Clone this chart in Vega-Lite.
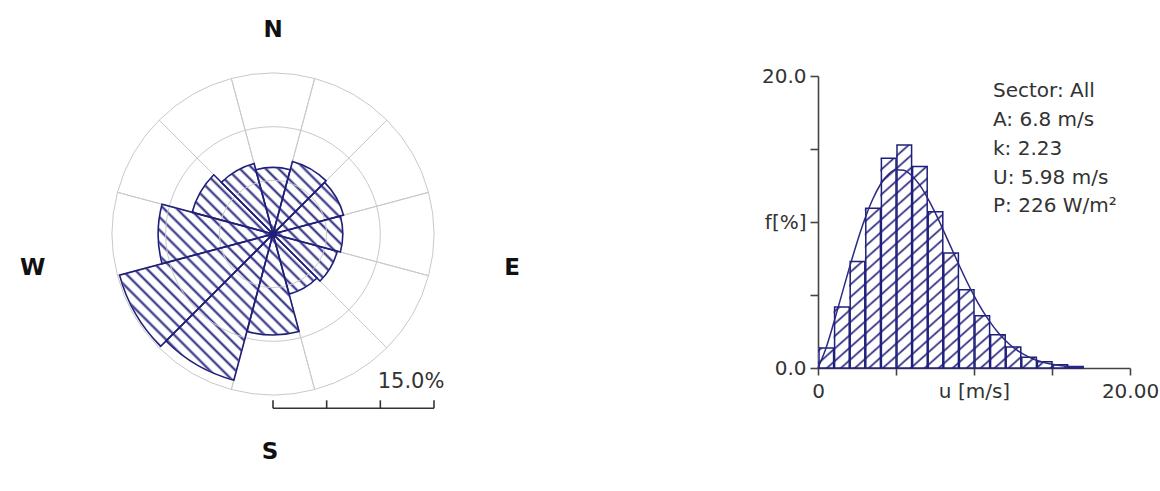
{
  "$schema": "https://vega.github.io/schema/vega-lite/v6.json",
  "padding": 0,
  "background": "white",
  "spacing": 272,
  "bounds": "flush",
  "config": {"view": {"stroke": null}, "font": "DejaVu Sans"},
  "datasets": {
    "rose": [
      {"dir": 0, "from": -15, "to": 15, "freq": 6.2}, {"dir": 30, "from": 15, "to": 45, "freq": 7.0},
      {"dir": 60, "from": 45, "to": 75, "freq": 6.8}, {"dir": 90, "from": 75, "to": 105, "freq": 6.5},
      {"dir": 120, "from": 105, "to": 135, "freq": 6.2}, {"dir": 150, "from": 135, "to": 165, "freq": 5.8},
      {"dir": 180, "from": 165, "to": 195, "freq": 9.4}, {"dir": 210, "from": 195, "to": 225, "freq": 14.1},
      {"dir": 240, "from": 225, "to": 255, "freq": 14.8}, {"dir": 270, "from": 255, "to": 285, "freq": 10.7},
      {"dir": 300, "from": 285, "to": 315, "freq": 7.8}, {"dir": 330, "from": 315, "to": 345, "freq": 6.8}
    ],
    "rings": [{"pct": 5}, {"pct": 10}],
    "barTicks": [{"pct": 0}, {"pct": 5}, {"pct": 10}, {"pct": 15}],
    "hist": [
      {"lo": 0, "hi": 1, "f": 1.37}, {"lo": 1, "hi": 2, "f": 4.17}, {"lo": 2, "hi": 3, "f": 7.3},
      {"lo": 3, "hi": 4, "f": 10.95}, {"lo": 4, "hi": 5, "f": 14.37}, {"lo": 5, "hi": 6, "f": 15.28},
      {"lo": 6, "hi": 7, "f": 13.8}, {"lo": 7, "hi": 8, "f": 10.7}, {"lo": 8, "hi": 9, "f": 7.87},
      {"lo": 9, "hi": 10, "f": 5.36}, {"lo": 10, "hi": 11, "f": 3.58}, {"lo": 11, "hi": 12, "f": 2.28},
      {"lo": 12, "hi": 13, "f": 1.44}, {"lo": 13, "hi": 14, "f": 0.73}, {"lo": 14, "hi": 15, "f": 0.42},
      {"lo": 15, "hi": 16, "f": 0.23}, {"lo": 16, "hi": 17, "f": 0.11}
    ],
    "weibull": [
      {"u": 0, "f": 0}, {"u": 0.5, "f": 1.32}, {"u": 1, "f": 3.06}, {"u": 1.5, "f": 4.94},
      {"u": 2, "f": 6.82}, {"u": 2.5, "f": 8.6}, {"u": 3, "f": 10.2}, {"u": 3.5, "f": 11.54},
      {"u": 4, "f": 12.57}, {"u": 4.5, "f": 13.25}, {"u": 5, "f": 13.58}, {"u": 5.5, "f": 13.55},
      {"u": 6, "f": 13.19}, {"u": 6.5, "f": 12.56}, {"u": 7, "f": 11.69}, {"u": 7.5, "f": 10.66},
      {"u": 8, "f": 9.52}, {"u": 8.5, "f": 8.33}, {"u": 9, "f": 7.15}, {"u": 9.5, "f": 6.01},
      {"u": 10, "f": 4.96}, {"u": 10.5, "f": 4.01}, {"u": 11, "f": 3.19}, {"u": 11.5, "f": 2.48},
      {"u": 12, "f": 1.9}, {"u": 12.5, "f": 1.42}, {"u": 13, "f": 1.05}, {"u": 13.5, "f": 0.76},
      {"u": 14, "f": 0.53}, {"u": 14.5, "f": 0.37}, {"u": 15, "f": 0.25}, {"u": 15.5, "f": 0.17},
      {"u": 16, "f": 0.11}, {"u": 17, "f": 0.05}
    ]
  },
  "hconcat": [
    {
      "width": 546,
      "height": 468,
      "layer": [
        {
          "data": {"values": [{}]},
          "mark": {
            "type": "point", "shape": "circle", "filled": true, "opacity": 1, "stroke": null,
            "fill": {
              "gradient": "linear", "x1": 0, "y1": 1, "x2": 1, "y2": 0,
              "stops": [
                {"offset": 0.0055, "color": "white"}, {"offset": 0.01, "color": "#26267f"}, {"offset": 0.0145, "color": "white"},
                {"offset": 0.0255, "color": "white"}, {"offset": 0.03, "color": "#26267f"}, {"offset": 0.0345, "color": "white"},
                {"offset": 0.0455, "color": "white"}, {"offset": 0.05, "color": "#26267f"}, {"offset": 0.0545, "color": "white"},
                {"offset": 0.0655, "color": "white"}, {"offset": 0.07, "color": "#26267f"}, {"offset": 0.0745, "color": "white"},
                {"offset": 0.0855, "color": "white"}, {"offset": 0.09, "color": "#26267f"}, {"offset": 0.0945, "color": "white"},
                {"offset": 0.1055, "color": "white"}, {"offset": 0.11, "color": "#26267f"}, {"offset": 0.1145, "color": "white"},
                {"offset": 0.1255, "color": "white"}, {"offset": 0.13, "color": "#26267f"}, {"offset": 0.1345, "color": "white"},
                {"offset": 0.1455, "color": "white"}, {"offset": 0.15, "color": "#26267f"}, {"offset": 0.1545, "color": "white"},
                {"offset": 0.1655, "color": "white"}, {"offset": 0.17, "color": "#26267f"}, {"offset": 0.1745, "color": "white"},
                {"offset": 0.1855, "color": "white"}, {"offset": 0.19, "color": "#26267f"}, {"offset": 0.1945, "color": "white"},
                {"offset": 0.2055, "color": "white"}, {"offset": 0.21, "color": "#26267f"}, {"offset": 0.2145, "color": "white"},
                {"offset": 0.2255, "color": "white"}, {"offset": 0.23, "color": "#26267f"}, {"offset": 0.2345, "color": "white"},
                {"offset": 0.2455, "color": "white"}, {"offset": 0.25, "color": "#26267f"}, {"offset": 0.2545, "color": "white"},
                {"offset": 0.2655, "color": "white"}, {"offset": 0.27, "color": "#26267f"}, {"offset": 0.2745, "color": "white"},
                {"offset": 0.2855, "color": "white"}, {"offset": 0.29, "color": "#26267f"}, {"offset": 0.2945, "color": "white"},
                {"offset": 0.3055, "color": "white"}, {"offset": 0.31, "color": "#26267f"}, {"offset": 0.3145, "color": "white"},
                {"offset": 0.3255, "color": "white"}, {"offset": 0.33, "color": "#26267f"}, {"offset": 0.3345, "color": "white"},
                {"offset": 0.3455, "color": "white"}, {"offset": 0.35, "color": "#26267f"}, {"offset": 0.3545, "color": "white"},
                {"offset": 0.3655, "color": "white"}, {"offset": 0.37, "color": "#26267f"}, {"offset": 0.3745, "color": "white"},
                {"offset": 0.3855, "color": "white"}, {"offset": 0.39, "color": "#26267f"}, {"offset": 0.3945, "color": "white"},
                {"offset": 0.4055, "color": "white"}, {"offset": 0.41, "color": "#26267f"}, {"offset": 0.4145, "color": "white"},
                {"offset": 0.4255, "color": "white"}, {"offset": 0.43, "color": "#26267f"}, {"offset": 0.4345, "color": "white"},
                {"offset": 0.4455, "color": "white"}, {"offset": 0.45, "color": "#26267f"}, {"offset": 0.4545, "color": "white"},
                {"offset": 0.4655, "color": "white"}, {"offset": 0.47, "color": "#26267f"}, {"offset": 0.4745, "color": "white"},
                {"offset": 0.4855, "color": "white"}, {"offset": 0.49, "color": "#26267f"}, {"offset": 0.4945, "color": "white"},
                {"offset": 0.5055, "color": "white"}, {"offset": 0.51, "color": "#26267f"}, {"offset": 0.5145, "color": "white"},
                {"offset": 0.5255, "color": "white"}, {"offset": 0.53, "color": "#26267f"}, {"offset": 0.5345, "color": "white"},
                {"offset": 0.5455, "color": "white"}, {"offset": 0.55, "color": "#26267f"}, {"offset": 0.5545, "color": "white"},
                {"offset": 0.5655, "color": "white"}, {"offset": 0.57, "color": "#26267f"}, {"offset": 0.5745, "color": "white"},
                {"offset": 0.5855, "color": "white"}, {"offset": 0.59, "color": "#26267f"}, {"offset": 0.5945, "color": "white"},
                {"offset": 0.6055, "color": "white"}, {"offset": 0.61, "color": "#26267f"}, {"offset": 0.6145, "color": "white"},
                {"offset": 0.6255, "color": "white"}, {"offset": 0.63, "color": "#26267f"}, {"offset": 0.6345, "color": "white"},
                {"offset": 0.6455, "color": "white"}, {"offset": 0.65, "color": "#26267f"}, {"offset": 0.6545, "color": "white"},
                {"offset": 0.6655, "color": "white"}, {"offset": 0.67, "color": "#26267f"}, {"offset": 0.6745, "color": "white"},
                {"offset": 0.6855, "color": "white"}, {"offset": 0.69, "color": "#26267f"}, {"offset": 0.6945, "color": "white"},
                {"offset": 0.7055, "color": "white"}, {"offset": 0.71, "color": "#26267f"}, {"offset": 0.7145, "color": "white"},
                {"offset": 0.7255, "color": "white"}, {"offset": 0.73, "color": "#26267f"}, {"offset": 0.7345, "color": "white"},
                {"offset": 0.7455, "color": "white"}, {"offset": 0.75, "color": "#26267f"}, {"offset": 0.7545, "color": "white"},
                {"offset": 0.7655, "color": "white"}, {"offset": 0.77, "color": "#26267f"}, {"offset": 0.7745, "color": "white"},
                {"offset": 0.7855, "color": "white"}, {"offset": 0.79, "color": "#26267f"}, {"offset": 0.7945, "color": "white"},
                {"offset": 0.8055, "color": "white"}, {"offset": 0.81, "color": "#26267f"}, {"offset": 0.8145, "color": "white"},
                {"offset": 0.8255, "color": "white"}, {"offset": 0.83, "color": "#26267f"}, {"offset": 0.8345, "color": "white"},
                {"offset": 0.8455, "color": "white"}, {"offset": 0.85, "color": "#26267f"}, {"offset": 0.8545, "color": "white"},
                {"offset": 0.8655, "color": "white"}, {"offset": 0.87, "color": "#26267f"}, {"offset": 0.8745, "color": "white"},
                {"offset": 0.8855, "color": "white"}, {"offset": 0.89, "color": "#26267f"}, {"offset": 0.8945, "color": "white"},
                {"offset": 0.9055, "color": "white"}, {"offset": 0.91, "color": "#26267f"}, {"offset": 0.9145, "color": "white"},
                {"offset": 0.9255, "color": "white"}, {"offset": 0.93, "color": "#26267f"}, {"offset": 0.9345, "color": "white"},
                {"offset": 0.9455, "color": "white"}, {"offset": 0.95, "color": "#26267f"}, {"offset": 0.9545, "color": "white"},
                {"offset": 0.9655, "color": "white"}, {"offset": 0.97, "color": "#26267f"}, {"offset": 0.9745, "color": "white"},
                {"offset": 0.9855, "color": "white"}, {"offset": 0.99, "color": "#26267f"}, {"offset": 0.9945, "color": "white"}
              ]
            }
          },
          "encoding": {
            "x": {"datum": 0, "type": "quantitative", "scale": {"domain": [-25.436, 25.436], "nice": false, "zero": false}, "axis": null},
            "y": {"datum": 0, "type": "quantitative", "scale": {"domain": [-21.802, 21.802], "nice": false, "zero": false}, "axis": null},
            "size": {"datum": 15, "type": "quantitative", "legend": null, "scale": {"type": "pow", "exponent": 2, "domain": [0, 15], "range": [0, 103684]}}
          }
        },
        {
          "data": {"name": "rose"},
          "mark": {"type": "arc", "fill": "white", "stroke": "white", "strokeWidth": 1},
          "encoding": {
            "theta": {"field": "from", "type": "quantitative", "stack": false, "scale": {"type": "linear", "domain": [0, 360], "range": [0, 6.2832], "zero": false, "nice": false}},
            "theta2": {"field": "to"},
            "radius": {"field": "freq", "type": "quantitative", "stack": false, "scale": {"type": "linear", "domain": [0, 15], "range": [0, 161], "zero": true, "nice": false}},
            "radius2": {"datum": 15.2}
          }
        },
        {
          "data": {"name": "rose"},
          "mark": {"type": "arc", "fill": null, "stroke": "#c9c9c9", "strokeWidth": 1},
          "encoding": {
            "theta": {"field": "from", "type": "quantitative", "stack": false, "scale": {"type": "linear", "domain": [0, 360], "range": [0, 6.2832], "zero": false, "nice": false}},
            "theta2": {"field": "to"},
            "radius": {"datum": 15, "type": "quantitative", "scale": {"type": "linear", "domain": [0, 15], "range": [0, 161], "zero": true, "nice": false}}
          }
        },
        {
          "data": {"name": "rings"},
          "mark": {"type": "point", "shape": "circle", "filled": false, "opacity": 1, "color": "#c9c9c9", "strokeWidth": 1},
          "encoding": {
            "x": {"datum": 0, "type": "quantitative"},
            "y": {"datum": 0, "type": "quantitative"},
            "size": {"field": "pct", "type": "quantitative", "legend": null}
          }
        },
        {
          "data": {"name": "rose"},
          "mark": {"type": "arc", "fill": null, "stroke": "#1f1f7a", "strokeWidth": 1.6},
          "encoding": {
            "theta": {"field": "from", "type": "quantitative", "stack": false, "scale": {"type": "linear", "domain": [0, 360], "range": [0, 6.2832], "zero": false, "nice": false}},
            "theta2": {"field": "to"},
            "radius": {"field": "freq", "type": "quantitative", "stack": false, "scale": {"type": "linear", "domain": [0, 15], "range": [0, 161], "zero": true, "nice": false}}
          }
        },
        {
          "data": {"name": "barTicks"},
          "mark": {"type": "line", "color": "#333333", "strokeWidth": 1.6},
          "encoding": {
            "x": {"field": "pct", "type": "quantitative"},
            "y": {"datum": -16.24, "type": "quantitative"}
          }
        },
        {
          "data": {"name": "barTicks"},
          "mark": {"type": "tick", "orient": "vertical", "color": "#333333", "thickness": 1.6, "size": 8, "opacity": 1},
          "encoding": {
            "x": {"field": "pct", "type": "quantitative"},
            "y": {"datum": -15.87, "type": "quantitative"}
          }
        },
        {
          "data": {"values": [{}]},
          "mark": {"type": "text", "fontSize": 21, "color": "#333333", "align": "center", "baseline": "middle"},
          "encoding": {
            "x": {"datum": 12.86, "type": "quantitative"},
            "y": {"datum": -13.79, "type": "quantitative"},
            "text": {"value": "15.0%"}
          }
        },
        {
          "data": {"values": [{}]},
          "mark": {"type": "text", "fontSize": 23, "fontWeight": "bold", "color": "#111111", "align": "center", "baseline": "middle"},
          "encoding": {
            "x": {"datum": 0, "type": "quantitative"},
            "y": {"datum": 19.0, "type": "quantitative"},
            "text": {"value": "N"}
          }
        },
        {
          "data": {"values": [{}]},
          "mark": {"type": "text", "fontSize": 23, "fontWeight": "bold", "color": "#111111", "align": "center", "baseline": "middle"},
          "encoding": {
            "x": {"datum": -0.28, "type": "quantitative"},
            "y": {"datum": -20.3, "type": "quantitative"},
            "text": {"value": "S"}
          }
        },
        {
          "data": {"values": [{}]},
          "mark": {"type": "text", "fontSize": 23, "fontWeight": "bold", "color": "#111111", "align": "center", "baseline": "middle"},
          "encoding": {
            "x": {"datum": -22.4, "type": "quantitative"},
            "y": {"datum": -3.2, "type": "quantitative"},
            "text": {"value": "W"}
          }
        },
        {
          "data": {"values": [{}]},
          "mark": {"type": "text", "fontSize": 23, "fontWeight": "bold", "color": "#111111", "align": "center", "baseline": "middle"},
          "encoding": {
            "x": {"datum": 22.27, "type": "quantitative"},
            "y": {"datum": -3.2, "type": "quantitative"},
            "text": {"value": "E"}
          }
        }
      ]
    },
    {
      "width": 312,
      "height": 368,
      "layer": [
        {
          "data": {"name": "hist"},
          "mark": {
            "type": "area", "interpolate": "step-after", "stroke": null, "opacity": 1,
            "fill": {
              "gradient": "linear", "x1": 0, "y1": 0, "x2": 1, "y2": 1,
              "stops": [
                {"offset": 0.009, "color": "white"}, {"offset": 0.014, "color": "#26267f"}, {"offset": 0.019, "color": "white"},
                {"offset": 0.037, "color": "white"}, {"offset": 0.042, "color": "#26267f"}, {"offset": 0.047, "color": "white"},
                {"offset": 0.065, "color": "white"}, {"offset": 0.070, "color": "#26267f"}, {"offset": 0.075, "color": "white"},
                {"offset": 0.093, "color": "white"}, {"offset": 0.098, "color": "#26267f"}, {"offset": 0.103, "color": "white"},
                {"offset": 0.121, "color": "white"}, {"offset": 0.126, "color": "#26267f"}, {"offset": 0.131, "color": "white"},
                {"offset": 0.149, "color": "white"}, {"offset": 0.154, "color": "#26267f"}, {"offset": 0.159, "color": "white"},
                {"offset": 0.177, "color": "white"}, {"offset": 0.182, "color": "#26267f"}, {"offset": 0.187, "color": "white"},
                {"offset": 0.205, "color": "white"}, {"offset": 0.210, "color": "#26267f"}, {"offset": 0.215, "color": "white"},
                {"offset": 0.233, "color": "white"}, {"offset": 0.238, "color": "#26267f"}, {"offset": 0.243, "color": "white"},
                {"offset": 0.261, "color": "white"}, {"offset": 0.266, "color": "#26267f"}, {"offset": 0.271, "color": "white"},
                {"offset": 0.289, "color": "white"}, {"offset": 0.294, "color": "#26267f"}, {"offset": 0.299, "color": "white"},
                {"offset": 0.317, "color": "white"}, {"offset": 0.322, "color": "#26267f"}, {"offset": 0.327, "color": "white"},
                {"offset": 0.345, "color": "white"}, {"offset": 0.350, "color": "#26267f"}, {"offset": 0.355, "color": "white"},
                {"offset": 0.373, "color": "white"}, {"offset": 0.378, "color": "#26267f"}, {"offset": 0.383, "color": "white"},
                {"offset": 0.401, "color": "white"}, {"offset": 0.406, "color": "#26267f"}, {"offset": 0.411, "color": "white"},
                {"offset": 0.429, "color": "white"}, {"offset": 0.434, "color": "#26267f"}, {"offset": 0.439, "color": "white"},
                {"offset": 0.457, "color": "white"}, {"offset": 0.462, "color": "#26267f"}, {"offset": 0.467, "color": "white"},
                {"offset": 0.485, "color": "white"}, {"offset": 0.490, "color": "#26267f"}, {"offset": 0.495, "color": "white"},
                {"offset": 0.513, "color": "white"}, {"offset": 0.518, "color": "#26267f"}, {"offset": 0.523, "color": "white"},
                {"offset": 0.541, "color": "white"}, {"offset": 0.546, "color": "#26267f"}, {"offset": 0.551, "color": "white"},
                {"offset": 0.569, "color": "white"}, {"offset": 0.574, "color": "#26267f"}, {"offset": 0.579, "color": "white"},
                {"offset": 0.597, "color": "white"}, {"offset": 0.602, "color": "#26267f"}, {"offset": 0.607, "color": "white"},
                {"offset": 0.625, "color": "white"}, {"offset": 0.630, "color": "#26267f"}, {"offset": 0.635, "color": "white"},
                {"offset": 0.653, "color": "white"}, {"offset": 0.658, "color": "#26267f"}, {"offset": 0.663, "color": "white"},
                {"offset": 0.681, "color": "white"}, {"offset": 0.686, "color": "#26267f"}, {"offset": 0.691, "color": "white"},
                {"offset": 0.709, "color": "white"}, {"offset": 0.714, "color": "#26267f"}, {"offset": 0.719, "color": "white"},
                {"offset": 0.737, "color": "white"}, {"offset": 0.742, "color": "#26267f"}, {"offset": 0.747, "color": "white"},
                {"offset": 0.765, "color": "white"}, {"offset": 0.770, "color": "#26267f"}, {"offset": 0.775, "color": "white"},
                {"offset": 0.793, "color": "white"}, {"offset": 0.798, "color": "#26267f"}, {"offset": 0.803, "color": "white"},
                {"offset": 0.821, "color": "white"}, {"offset": 0.826, "color": "#26267f"}, {"offset": 0.831, "color": "white"},
                {"offset": 0.849, "color": "white"}, {"offset": 0.854, "color": "#26267f"}, {"offset": 0.859, "color": "white"},
                {"offset": 0.877, "color": "white"}, {"offset": 0.882, "color": "#26267f"}, {"offset": 0.887, "color": "white"},
                {"offset": 0.905, "color": "white"}, {"offset": 0.910, "color": "#26267f"}, {"offset": 0.915, "color": "white"},
                {"offset": 0.933, "color": "white"}, {"offset": 0.938, "color": "#26267f"}, {"offset": 0.943, "color": "white"},
                {"offset": 0.961, "color": "white"}, {"offset": 0.966, "color": "#26267f"}, {"offset": 0.971, "color": "white"},
                {"offset": 0.989, "color": "white"}, {"offset": 0.994, "color": "#26267f"}, {"offset": 0.999, "color": "white"}
              ]
            }
          },
          "encoding": {
            "x": {
              "field": "lo", "type": "quantitative",
              "scale": {"domain": [0, 20], "nice": false, "zero": false},
              "axis": {
                "values": [0, 5, 10, 15, 20], "title": null, "grid": false, "labelFlush": false, "labelOverlap": false,
                "labelExpr": "datum.value == 0 ? '0' : datum.value == 10 ? 'u [m/s]' : datum.value == 20 ? '20.00' : ''",
                "labelFont": "DejaVu Sans", "labelFontSize": 20, "labelColor": "#333333", "labelPadding": 6,
                "domainColor": "#444444", "domainWidth": 1.6, "tickColor": "#444444", "tickWidth": 1.6, "tickSize": 7
              }
            },
            "y": {
              "field": "f", "type": "quantitative", "stack": false,
              "scale": {"domain": [0, 20], "range": [368, 76], "nice": false, "zero": true},
              "axis": {
                "values": [0, 5, 10, 15, 20], "title": null, "grid": false, "labelOverlap": false,
                "labelExpr": "datum.value == 0 ? '0.0' : datum.value == 10 ? 'f[%]' : datum.value == 20 ? '20.0' : ''",
                "labelFont": "DejaVu Sans", "labelFontSize": 20, "labelColor": "#333333", "labelPadding": 4,
                "domainColor": "#444444", "domainWidth": 1.6, "tickColor": "#444444", "tickWidth": 1.6, "tickSize": 8
              }
            }
          }
        },
        {
          "data": {"name": "hist"},
          "mark": {"type": "bar", "fill": "transparent", "stroke": "#1f1f7a", "strokeWidth": 1.5},
          "encoding": {
            "x": {"field": "lo", "type": "quantitative", "bin": {"binned": true, "step": 1}, "axis": {"title": null}},
            "x2": {"field": "hi"},
            "y": {"field": "f", "type": "quantitative", "axis": {"title": null}}
          }
        },
        {
          "data": {"name": "weibull"},
          "mark": {"type": "line", "color": "#2a2a85", "strokeWidth": 1.5, "interpolate": "monotone"},
          "encoding": {
            "x": {"field": "u", "type": "quantitative", "axis": {"title": null}},
            "y": {"field": "f", "type": "quantitative", "axis": {"title": null}}
          }
        },
        {
          "data": {"values": [{}]},
          "mark": {"type": "text", "align": "left", "baseline": "middle", "fontSize": 20, "color": "#333333"},
          "encoding": {"x": {"datum": 11.22, "type": "quantitative"}, "y": {"datum": 18.95, "type": "quantitative"}, "text": {"value": "Sector: All"}}
        },
        {
          "data": {"values": [{}]},
          "mark": {"type": "text", "align": "left", "baseline": "middle", "fontSize": 20, "color": "#333333"},
          "encoding": {"x": {"datum": 11.22, "type": "quantitative"}, "y": {"datum": 16.98, "type": "quantitative"}, "text": {"value": "A: 6.8 m/s"}}
        },
        {
          "data": {"values": [{}]},
          "mark": {"type": "text", "align": "left", "baseline": "middle", "fontSize": 20, "color": "#333333"},
          "encoding": {"x": {"datum": 11.22, "type": "quantitative"}, "y": {"datum": 15.01, "type": "quantitative"}, "text": {"value": "k: 2.23"}}
        },
        {
          "data": {"values": [{}]},
          "mark": {"type": "text", "align": "left", "baseline": "middle", "fontSize": 20, "color": "#333333"},
          "encoding": {"x": {"datum": 11.22, "type": "quantitative"}, "y": {"datum": 13.04, "type": "quantitative"}, "text": {"value": "U: 5.98 m/s"}}
        },
        {
          "data": {"values": [{}]},
          "mark": {"type": "text", "align": "left", "baseline": "middle", "fontSize": 20, "color": "#333333"},
          "encoding": {"x": {"datum": 11.22, "type": "quantitative"}, "y": {"datum": 11.07, "type": "quantitative"}, "text": {"value": "P: 226 W/m²"}}
        }
      ]
    }
  ]
}
